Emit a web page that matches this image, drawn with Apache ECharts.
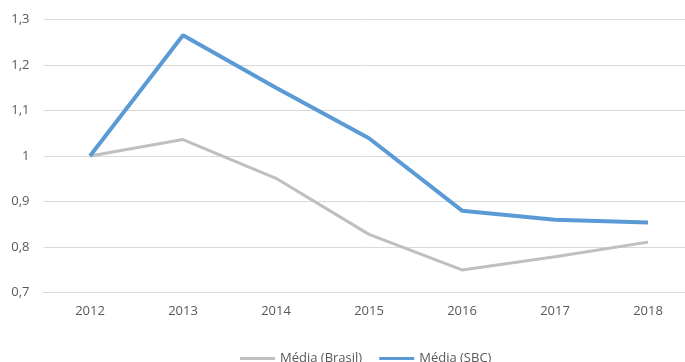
<!DOCTYPE html>
<html>
<head>
<meta charset="utf-8">
<style>
  html, body { margin: 0; padding: 0; background: #fff; }
  #chart { width: 685px; height: 362px; }
</style>
<script src="https://cdn.jsdelivr.net/npm/echarts@6/dist/echarts.min.js"></script>
</head>
<body>
<div id="chart"></div>
<script>
const years = ['2012', '2013', '2014', '2015', '2016', '2017', '2018'];
const mediaBrasil = [1.0, 1.036, 0.951, 0.828, 0.750, 0.779, 0.811];
const mediaSBC = [1.0, 1.265, 1.150, 1.039, 0.880, 0.860, 0.854];
const seriesNames = ['Média (Brasil)', 'Média (SBC)'];

const chart = echarts.init(document.getElementById('chart'));

function fmt(v) {
    return String(Number(v.toFixed(1))).replace('.', ',');
}

const option = {
    animation: false,
    textStyle: { fontFamily: 'Open Sans' },
    grid: {
        left: 43.5,
        right: -9.5,
        top: 19.3,
        bottom: 69.3,
        containLabel: false,
        outerBoundsMode: 'none'
    },
    legend: {
        data: seriesNames,
        left: 235,
        top: 347,
        icon: 'rect',
        itemWidth: 35,
        itemHeight: 3,
        itemGap: 17,
        textStyle: { color: '#595959', fontSize: 13, fontFamily: 'Open Sans' }
    },
    xAxis: {
        type: 'category',
        data: years,
        boundaryGap: true,
        axisLine: { show: true, lineStyle: { color: '#D9D9D9' } },
        axisTick: { show: false },
        axisLabel: { color: '#595959', fontSize: 13, margin: 12 },
        splitLine: { show: false }
    },
    yAxis: {
        type: 'value',
        min: 0.7,
        max: 1.3,
        interval: 0.1,
        axisLine: { show: false },
        axisTick: { show: false },
        axisLabel: { color: '#595959', fontSize: 13, margin: 14, formatter: fmt },
        splitLine: { lineStyle: { color: '#D9D9D9', width: 1 } }
    },
    series: [
        {
            name: seriesNames[0],
            type: 'line',
            data: mediaBrasil,
            showSymbol: false,
            symbol: 'none',
            color: '#BFBFBF',
            lineStyle: { color: '#BFBFBF', width: 3 },
            z: 2
        },
        {
            name: seriesNames[1],
            type: 'line',
            data: mediaSBC,
            showSymbol: false,
            symbol: 'none',
            color: '#5B9BD5',
            lineStyle: { color: '#5B9BD5', width: 4 },
            z: 3
        }
    ]
};

chart.setOption(option);
</script>
</body>
</html>
